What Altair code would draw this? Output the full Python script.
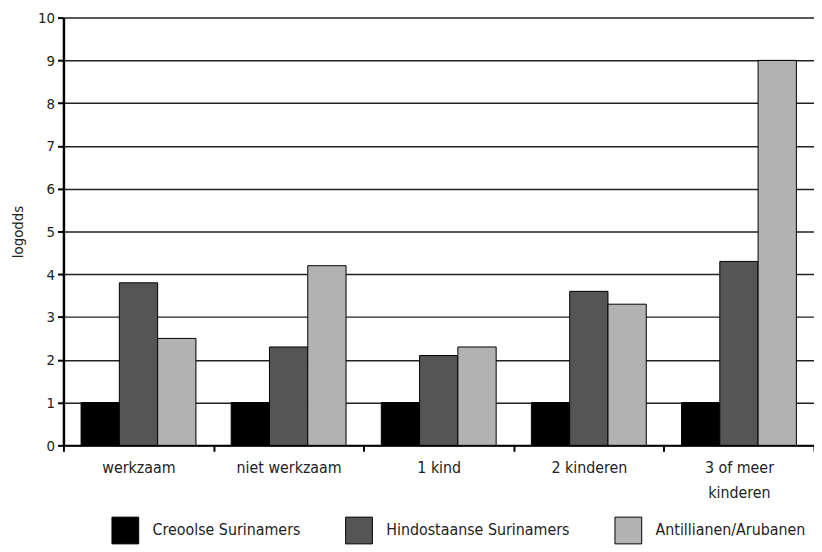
import altair as alt
import pandas as pd

categories = ["werkzaam", "niet werkzaam", "1 kind", "2 kinderen", "3 of meer kinderen"]
groups = ["Creoolse Surinamers", "Hindostaanse Surinamers", "Antillianen/Arubanen"]
creools = [1, 1, 1, 1, 1]
hindostaans = [3.8, 2.3, 2.1, 3.6, 4.3]
antilliaans = [2.5, 4.2, 2.3, 3.3, 9.0]
colors = ["#000000", "#555555", "#b2b2b2"]

rows = []
for series, vals in zip(groups, [creools, hindostaans, antilliaans]):
    for c, v in zip(categories, vals):
        rows.append({"categorie": c, "groep": series, "logodds": v})
df = pd.DataFrame(rows)

FONT = "Liberation Sans Narrow, DejaVu Sans Condensed, sans-serif"

chart = alt.Chart(df).mark_bar(stroke="#000000", strokeWidth=1).encode(
    x=alt.X("categorie:N", sort=categories, title=None,
            scale=alt.Scale(paddingInner=0, paddingOuter=0),
            axis=alt.Axis(labelAngle=0, tickBand="extent", labelFont=FONT, labelFontSize=16,
                          labelColor="#222", labelPadding=8, labelLineHeight=26,
                          labelExpr="datum.label == '3 of meer kinderen' ? ['3 of meer', 'kinderen'] : datum.label",
                          domainColor="#000", domainWidth=2, tickColor="#000", tickWidth=2, tickSize=6)),
    xOffset=alt.XOffset("groep:N", sort=groups, scale=alt.Scale(paddingInner=0, paddingOuter=0.46)),
    y=alt.Y("logodds:Q", title="logodds", scale=alt.Scale(domain=[0, 10], nice=False),
            axis=alt.Axis(values=list(range(0, 11)), labelFont=FONT, labelFontSize=15, labelColor="#222",
                          titleFont=FONT, titleFontSize=15, titleFontWeight="normal", titleColor="#222",
                          titlePadding=12, grid=True, gridColor="#222", gridWidth=1.5,
                          domainColor="#000", domainWidth=2.5, tickColor="#000", tickWidth=2, tickSize=6,
                          labelPadding=3)),
    color=alt.Color("groep:N", sort=groups, scale=alt.Scale(domain=groups, range=colors),
                    legend=alt.Legend(title=None, orient="none", direction="horizontal",
                                      legendX=48, legendY=503, symbolType="square", symbolSize=730,
                                      symbolStrokeColor="#000", symbolStrokeWidth=1,
                                      labelFont=FONT, labelFontSize=16, labelColor="#222",
                                      labelOffset=13, columnPadding=42, labelLimit=300)),
).properties(
    width=758, height=432,
    padding={"left": 56, "top": 7, "right": 0, "bottom": 105},
    autosize="none",
).configure_view(stroke=None).configure_axis(labelFontWeight="normal")

chart.save("out.html", embed_options={"renderer": "svg", "actions": False})
